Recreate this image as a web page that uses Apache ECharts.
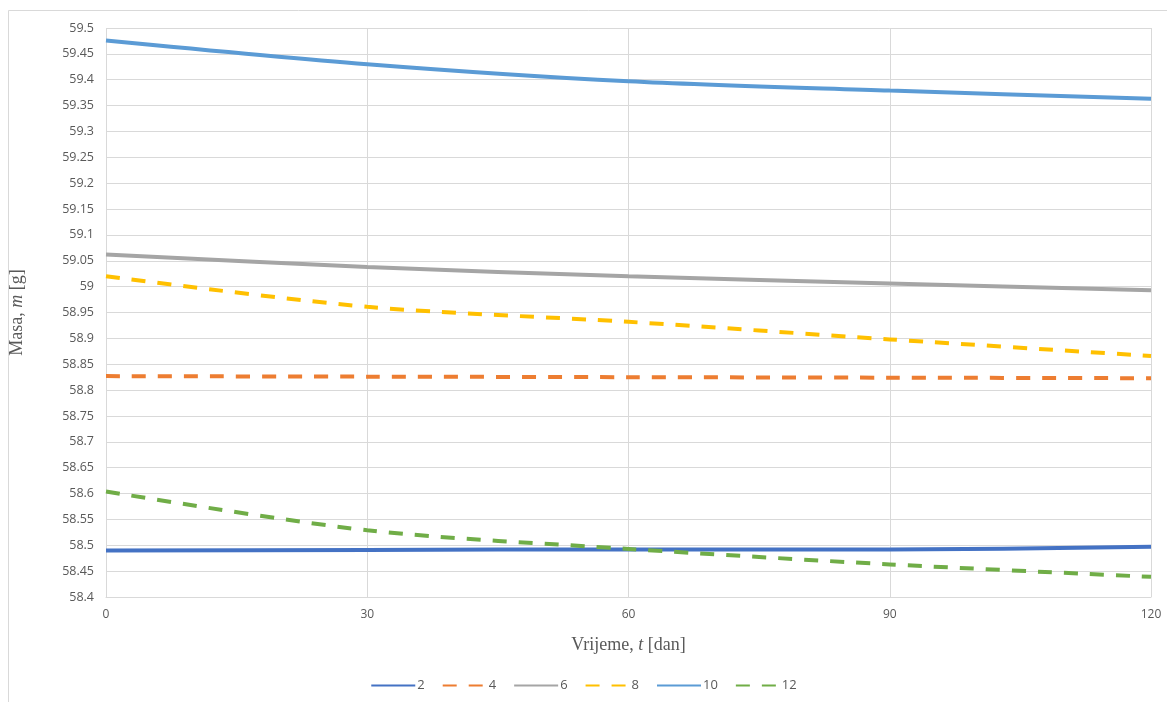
<!DOCTYPE html>
<html><head><meta charset="utf-8">
<script src="https://cdn.jsdelivr.net/npm/echarts@6/dist/echarts.min.js"></script>
<style>html,body{margin:0;padding:0;background:#fff}#c{width:1167px;height:702px}</style>
</head><body><div id="c"></div>
<script>
const days = [0, 30, 60, 90, 120];
const seriesNames = ['2', '4', '6', '8', '10', '12'];
const s2  = [58.490, 58.491, 58.492, 58.492, 58.497];
const s4  = [58.827, 58.826, 58.825, 58.824, 58.823];
const s6  = [59.062, 59.038, 59.020, 59.006, 58.993];
const s8  = [59.020, 58.961, 58.932, 58.898, 58.866];
const s10 = [59.476, 59.430, 59.397, 59.379, 59.363];
const s12 = [58.604, 58.529, 58.493, 58.463, 58.439];
const yTicks = [58.4, 59.5, 0.05]; // min, max, step
const xTicks = [0, 120, 30];

const values = [s2, s4, s6, s8, s10, s12];
const colors = ['#4472C4', '#ED7D31', '#A5A5A5', '#FFC000', '#5B9BD5', '#70AD47'];
const dashed = [false, true, false, true, false, true];

const chart = echarts.init(document.getElementById('c'));
chart.setOption({
  animation: false,
  backgroundColor: '#fff',
  graphic: [{
    type: 'rect', silent: true, z: -10,
    shape: { x: 8.5, y: 10.5, width: 1170, height: 700 },
    style: { fill: 'none', stroke: '#D9D9D9', lineWidth: 1 }
  }],
  grid: { left: 104, right: 16, top: 28, bottom: 105 },
  legend: {
    bottom: 5, left: 'center',
    itemWidth: 44, itemHeight: 4, itemGap: 17,
    itemStyle: { opacity: 0 },
    textStyle: { color: '#595959', fontSize: 13, fontFamily: 'Open Sans', padding: [0, 0, 0, -3] },
    data: seriesNames
  },
  xAxis: {
    type: 'value', min: xTicks[0], max: xTicks[1], interval: xTicks[2],
    name: '{a|Vrijeme, }{i|t}{a| [dan]}',
    nameLocation: 'middle', nameGap: 39,
    nameTextStyle: { rich: {
      a: { fontFamily: 'Liberation Serif', fontSize: 18, color: '#595959' },
      i: { fontFamily: 'Liberation Serif', fontSize: 18, color: '#595959', fontStyle: 'italic' }
    }},
    axisLine: { show: true, lineStyle: { color: '#D9D9D9' } },
    axisTick: { show: false },
    axisLabel: { color: '#595959', fontSize: 12, fontFamily: 'Open Sans', margin: 12 },
    splitLine: { show: true, lineStyle: { color: '#D9D9D9' } }
  },
  yAxis: {
    type: 'value', min: yTicks[0], max: yTicks[1], interval: yTicks[2],
    name: '{a|Masa, }{i|m}{a| [g]}',
    nameLocation: 'middle', nameGap: 80, nameRotate: 90,
    nameTextStyle: { rich: {
      a: { fontFamily: 'Liberation Serif', fontSize: 18, color: '#595959' },
      i: { fontFamily: 'Liberation Serif', fontSize: 18, color: '#595959', fontStyle: 'italic' }
    }},
    axisLine: { show: false },
    axisTick: { show: false },
    axisLabel: {
      color: '#595959', fontSize: 12.5, fontFamily: 'Open Sans', margin: 12,
      formatter: v => String(parseFloat(v.toFixed(2)))
    },
    splitLine: { show: true, lineStyle: { color: '#D9D9D9' } }
  },
  series: seriesNames.map((n, i) => ({
    name: n, type: 'line', smooth: 0.3, symbol: 'none',
    data: days.map((d, j) => [d, values[i][j]]),
    itemStyle: { color: colors[i] },
    lineStyle: { color: colors[i], width: 4, type: dashed[i] ? [14, 12] : 'solid', cap: 'butt' }
  }))
});
</script></body></html>
